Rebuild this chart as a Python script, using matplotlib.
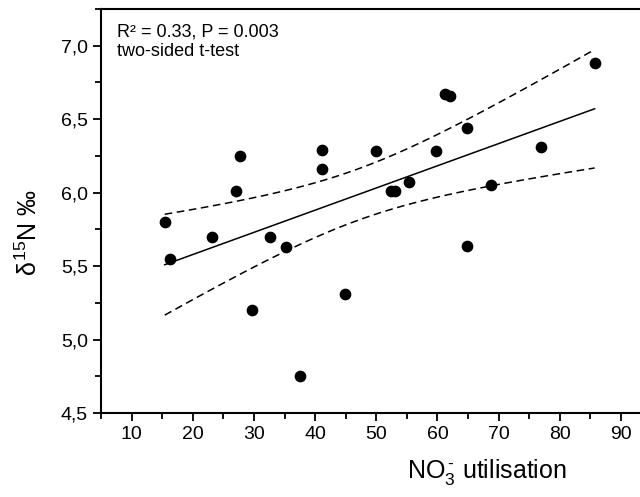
import matplotlib
matplotlib.use('Agg')
import matplotlib.pyplot as plt
from matplotlib.ticker import MultipleLocator, FuncFormatter
import numpy as np

plt.rcParams['font.family'] = ['Liberation Sans', 'DejaVu Sans']
plt.rcParams['mathtext.fontset'] = 'custom'
plt.rcParams['mathtext.rm'] = 'Liberation Sans'
plt.rcParams['mathtext.it'] = 'Liberation Sans'

# data
no3_util = [15.4, 16.2, 23.1, 27.0, 27.7, 29.7, 32.6, 35.2, 37.5, 41.1, 41.1,
            44.9, 50.0, 52.4, 53.0, 55.4, 59.8, 61.3, 62.0, 64.9, 64.9, 68.7,
            76.9, 85.7]
d15n = [5.80, 5.55, 5.70, 6.01, 6.25, 5.20, 5.70, 5.63, 4.75, 6.29, 6.16,
        5.31, 6.28, 6.01, 6.01, 6.07, 6.28, 6.67, 6.66, 6.44, 5.64, 6.05,
        6.31, 6.88]
t_crit = 2.074  # two-sided 95%, df = 22

x = np.array(no3_util)
y = np.array(d15n)
n = len(x)
slope, icept = np.polyfit(x, y, 1)
resid = y - (icept + slope * x)
s = np.sqrt(np.sum(resid ** 2) / (n - 2))
xx = np.linspace(x.min(), x.max(), 100)
yy = icept + slope * xx
se = s * np.sqrt(1.0 / n + (xx - x.mean()) ** 2 / np.sum((x - x.mean()) ** 2))

fig = plt.figure(figsize=(6.4, 4.97), dpi=100)
ax = fig.add_axes([0.158, 0.169, 0.86, 0.813])

ax.scatter(x, y, s=55, color='black', zorder=3)
ax.plot(xx, yy, color='black', lw=1.1)
ax.plot(xx, yy + t_crit * se, color='black', lw=1.1, ls=(0, (5, 3)))
ax.plot(xx, yy - t_crit * se, color='black', lw=1.1, ls=(0, (5, 3)))

ax.set_xlim(5, 95)
ax.set_ylim(4.5, 7.25)
ax.xaxis.set_major_locator(MultipleLocator(10))
ax.xaxis.set_minor_locator(MultipleLocator(5))
ax.yaxis.set_major_locator(MultipleLocator(0.5))
ax.yaxis.set_minor_locator(MultipleLocator(0.25))
ax.yaxis.set_major_formatter(FuncFormatter(lambda v, p: f'{v:.1f}'.replace('.', ',')))
ax.tick_params(which='both', direction='out', width=1.3, labelsize=14)
ax.tick_params(which='major', length=6)
ax.tick_params(which='minor', length=4)
for sp in ax.spines.values():
    sp.set_linewidth(1.5)

ax.text(0.029, 0.965, 'R² = 0.33, P = 0.003\ntwo-sided t-test', transform=ax.transAxes,
        ha='left', va='top', fontsize=13, linespacing=1.2)

fig.text(487 / 640, 1 - 472 / 497, r'NO$_3^{\,\text{-}}$ utilisation', ha='center', va='center',
         fontsize=18)
fig.text(29 / 640, 1 - 232 / 497, r'$\delta^{15}$N ‰', ha='center', va='center',
         rotation=90, fontsize=18)

fig.savefig('out.png', dpi=100)
